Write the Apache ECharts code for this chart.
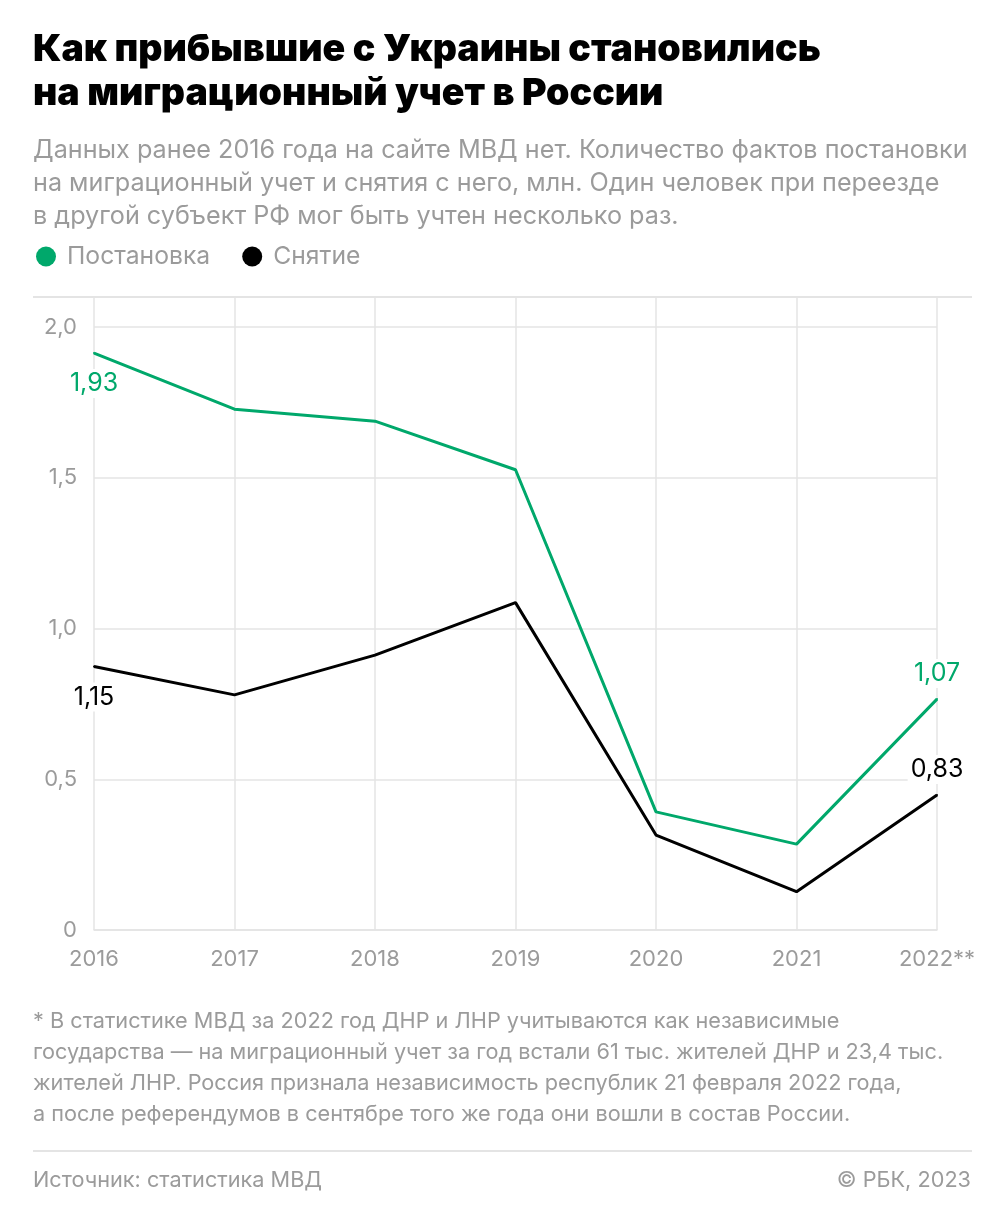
<!DOCTYPE html>
<html>
<head>
<meta charset="utf-8">
<script src="https://cdn.jsdelivr.net/npm/echarts@6/dist/echarts.min.js"></script>
<style>
html,body{margin:0;padding:0;background:#fff;}
#chart{width:1005px;height:1222px;}
</style>
</head>
<body>
<div id="chart"></div>
<script>
// ---- data ----
const years = ['2016', '2017', '2018', '2019', '2020', '2021', '2022**'];
const postanovka = [1.914, 1.728, 1.688, 1.527, 0.392, 0.285, 0.766];
const snyatie = [0.874, 0.780, 0.912, 1.086, 0.315, 0.127, 0.448];
const postanovkaLabels = ['1,93', null, null, null, null, null, '1,07'];
const snyatieLabels = ['1,15', null, null, null, null, null, '0,83'];
const labelPositions = ['bottom', null, null, null, null, null, 'top'];
const yTicks = { min: 0, max: 2.1, interval: 0.5 };
const titleLines = ['Как прибывшие с Украины становились', 'на миграционный учет в России'];
const subtitleLines = [
  'Данных ранее 2016 года на сайте МВД нет. Количество фактов постановки',
  'на миграционный учет и снятия с него, млн. Один человек при переезде',
  'в другой субъект РФ мог быть учтен несколько раз.'
];
const noteLines = [
  '* В статистике МВД за 2022 год ДНР и ЛНР учитываются как независимые',
  'государства — на миграционный учет за год встали 61 тыс. жителей ДНР и 23,4 тыс.',
  'жителей ЛНР. Россия признала независимость республик 21 февраля 2022 года,',
  'а после референдумов в сентябре того же года они вошли в состав России.'
];
const sourceText = 'Источник: статистика МВД';
const copyrightText = '© РБК, 2023';

const GREEN = '#00A86B';
const GRAY = '#9b9b9b';
const GRID = '#e4e4e4';
const FONT = 'Inter, Roboto, sans-serif';

function buildData(values, labels, color) {
  return values.map((v, i) => ({
    value: v,
    label: labels[i] == null ? { show: false } : {
      show: true, formatter: labels[i], position: labelPositions[i],
      distance: labelPositions[i] === 'top' ? 10 : 15,
      color: color, fontSize: 25, fontFamily: FONT,
      backgroundColor: '#fff', padding: [2, 3]
    }
  }));
}

const graphic = [];
titleLines.forEach((t, i) => graphic.push({
  type: 'text', left: 33, top: 31 + i * 44,
  style: { text: t, fill: '#000', font: '900 37.5px ' + FONT }
}));
subtitleLines.forEach((t, i) => graphic.push({
  type: 'text', left: 33, top: 138 + i * 33,
  style: { text: t, fill: GRAY, font: '400 25.2px ' + FONT }
}));
noteLines.forEach((t, i) => graphic.push({
  type: 'text', left: 33, top: 1010 + i * 31,
  style: { text: t, fill: GRAY, font: '400 21.7px ' + FONT }
}));
graphic.push({ type: 'line', shape: { x1: 33, y1: 297, x2: 972, y2: 297 }, style: { stroke: GRID, lineWidth: 2 }, z: 10 });
graphic.push({ type: 'line', shape: { x1: 33, y1: 1151, x2: 972, y2: 1151 }, style: { stroke: GRID, lineWidth: 2 } });
graphic.push({ type: 'text', left: 33, top: 1169, style: { text: sourceText, fill: GRAY, font: '400 21.7px ' + FONT } });
graphic.push({ type: 'text', right: 34, top: 1169, style: { text: copyrightText, fill: GRAY, font: '400 21.7px ' + FONT } });

const chart = echarts.init(document.getElementById('chart'), null, { renderer: 'canvas' });
chart.setOption({
  animation: false,
  backgroundColor: '#fff',
  graphic: graphic,
  legend: {
    left: 31, top: 239, itemWidth: 20, itemHeight: 20, itemGap: 32,
    icon: 'circle',
    textStyle: { color: GRAY, fontSize: 24.7, fontFamily: FONT, padding: [0, 0, 0, 6] },
    data: ['Постановка', 'Снятие']
  },
  grid: { left: 94, right: 68, top: 297, bottom: 292, containLabel: false },
  xAxis: {
    type: 'category', data: years, boundaryGap: false,
    axisLine: { show: true, lineStyle: { color: GRID, width: 1.5 } },
    axisTick: { show: false },
    axisLabel: { color: GRAY, fontSize: 22, fontFamily: FONT, margin: 18 },
    splitLine: { show: true, lineStyle: { color: GRID, width: 1.5 } }
  },
  yAxis: {
    type: 'value', min: yTicks.min, max: yTicks.max, interval: yTicks.interval,
    axisLine: { show: false }, axisTick: { show: false },
    axisLabel: {
      color: GRAY, fontSize: 22, fontFamily: FONT, margin: 17, showMaxLabel: false,
      formatter: v => v === 0 ? '0' : v.toFixed(1).replace('.', ',')
    },
    splitLine: { show: true, lineStyle: { color: GRID, width: 1.5 } }
  },
  series: [
    { name: 'Постановка', type: 'line', symbol: 'circle', symbolSize: 2, showAllSymbol: true,
      color: GREEN, itemStyle: { color: GREEN },
      lineStyle: { width: 3, color: GREEN }, z: 3,
      data: buildData(postanovka, postanovkaLabels, GREEN) },
    { name: 'Снятие', type: 'line', symbol: 'circle', symbolSize: 2, showAllSymbol: true,
      color: '#000', itemStyle: { color: '#000' },
      lineStyle: { width: 3, color: '#000' }, z: 4,
      data: buildData(snyatie, snyatieLabels, '#000') }
  ]
});
</script>
</body>
</html>
